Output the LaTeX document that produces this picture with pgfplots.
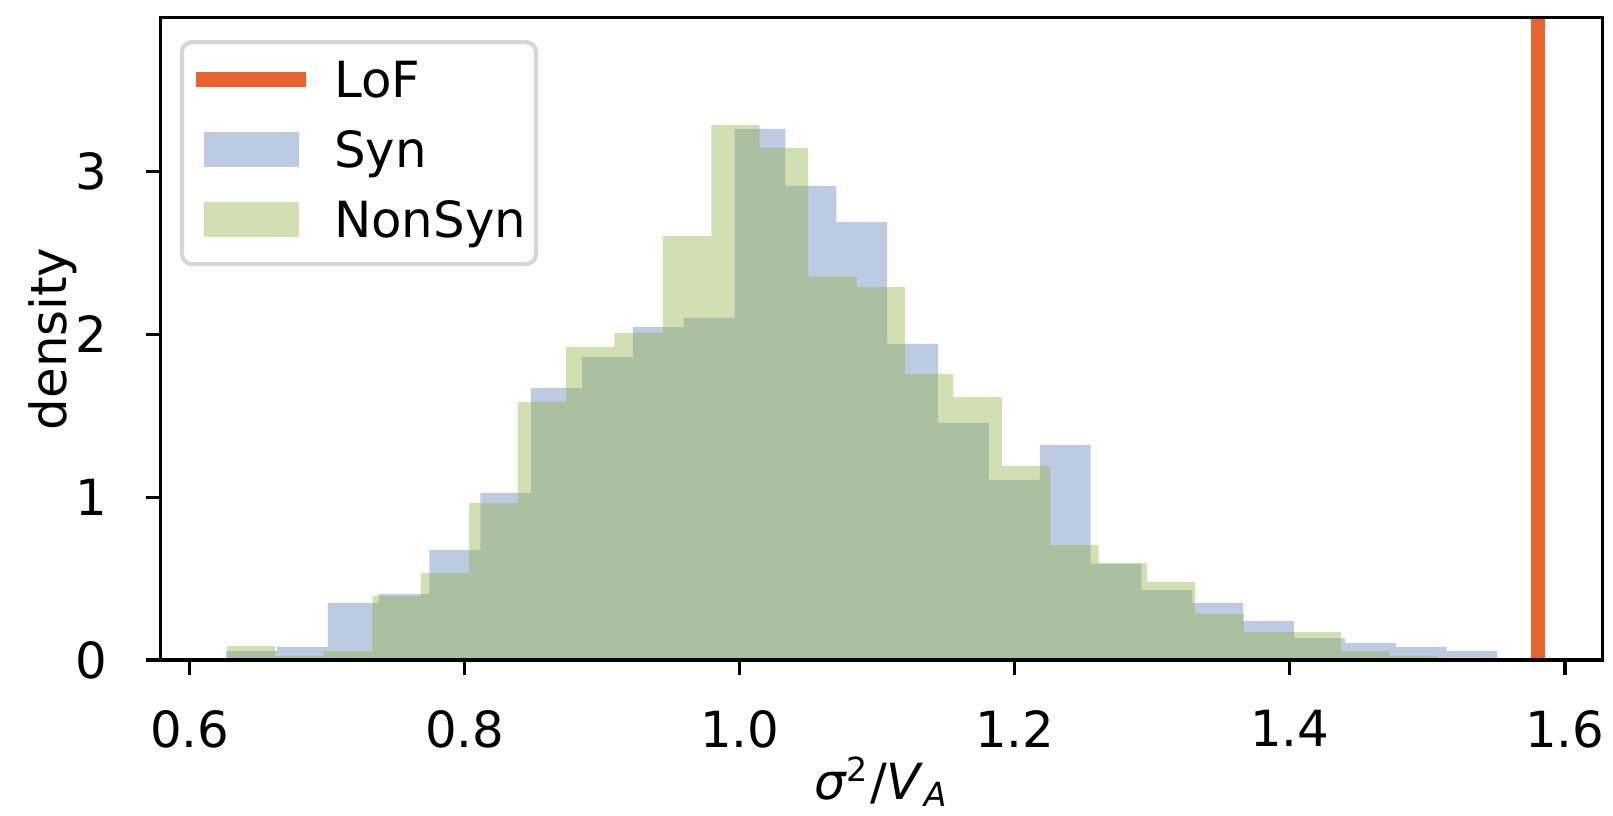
\documentclass[border=0pt]{standalone}
\usepackage{fontspec}
\setmainfont{DejaVu Sans}
\usepackage{pgfplots}
\usepackage{pgfplotstable}
\pgfplotsset{compat=1.18}
\definecolor{lofc}{RGB}{233,99,48}
\definecolor{synbase}{RGB}{88,125,180}
\definecolor{nonbase}{RGB}{143,175,63}
\definecolor{leggray}{RGB}{214,214,214}

\pgfplotstableread{
x y
0.6264 0.055
0.6634 0.080
0.7004 0.350
0.7373 0.405
0.7743 0.676
0.8113 1.026
0.8483 1.671
0.8853 1.861
0.9223 2.045
0.9593 2.101
0.9962 3.262
1.0332 2.912
1.0702 2.690
1.1072 1.941
1.1442 1.456
1.1812 1.106
1.2182 1.321
1.2551 0.590
1.2921 0.430
1.3291 0.350
1.3661 0.240
1.4031 0.135
1.4401 0.104
1.4771 0.080
1.5140 0.055
1.5510 0.055
}\syntable

\pgfplotstableread{
x y
0.6271 0.086
0.6623 0.025
0.6975 0.055
0.7328 0.393
0.7680 0.534
0.8032 0.964
0.8384 1.585
0.8736 1.923
0.9088 2.009
0.9440 2.604
0.9793 3.286
1.0145 3.145
1.0497 2.353
1.0849 2.291
1.1201 1.757
1.1553 1.615
1.1906 1.192
1.2258 0.706
1.2610 0.596
1.2962 0.479
1.3314 0.283
1.3666 0.172
1.4018 0.172
1.4371 0.055
1.4723 0.025
1.5075 0.025
}\nonsyntable

\begin{document}
\begin{tikzpicture}
\begin{axis}[
  at={(0,0)}, anchor=south west,
  scale only axis, width=346.08bp, height=154.15bp,
  xmin=0.5786, xmax=1.6273, ymin=0, ymax=3.945,
  axis on top,
  axis line style={line width=0.8bp, black},
  every tick/.style={line width=0.8bp, black},
  tick align=outside, major tick length=3.5bp,
  tick pos=left,
  xtick={0.6,0.8,1.0,1.2,1.4,1.6},
  ytick={0,1,2,3},
  /pgf/number format/assume math mode=true,
  xticklabel style={/pgf/number format/fixed, /pgf/number format/fixed zerofill, /pgf/number format/precision=1},
  tick label style={font=\fontsize{12}{14.4}\selectfont, inner sep=0pt},
  xticklabel style={anchor=north, yshift=-8.4bp},
  yticklabel style={anchor=east, xshift=-8.95bp},
  xlabel={\textit{σ}\textsuperscript{2}/\textit{V}\textsubscript{\textit{A}}},
  ylabel={density},
  label style={font=\fontsize{12}{14.4}\selectfont},
  xlabel style={at={(axis description cs:0.5,-0.2167)}, anchor=base},
  ylabel style={at={(axis description cs:-0.06533,0.5)}, anchor=base},
  legend cell align=left,
  legend style={at={(axis description cs:0.01503,0.9620)}, anchor=north west,
    outer sep=0pt, draw=leggray, line width=1bp, rounded corners=2.4bp,
    fill=white, inner xsep=1.73bp, inner ysep=4.6bp, row sep=8.05bp,
    font=\fontsize{12}{14.4}\selectfont,
    nodes={inner sep=0pt, text height=8.75bp, text depth=0pt, text width=46.7bp},
    /tikz/every odd column/.append style={column sep=5.17bp}},
]
\addplot[lofc, line width=3.43bp,
  legend image code/.code={\path[draw=none, fill=none, sharp corners] (0bp,-4.2bp) rectangle (26.2bp,4.2bp);
    \draw[draw=lofc, fill=none, sharp corners, line width=3.43bp] (0bp,0bp) -- (26.2bp,0bp);}]
  coordinates {(1.5806,0) (1.5806,3.945)};
\addlegendentry{LoF}
\addplot[ybar interval, fill=synbase, fill opacity=0.4, draw=none,
  legend image code/.code={\path[draw=none, fill=none, sharp corners] (0bp,-4.2bp) rectangle (26.2bp,4.2bp);
    \path[draw=none, fill=synbase, fill opacity=0.4, sharp corners] (1.85bp,-4.2bp) rectangle (24.65bp,4.2bp);}]
  table[x=x, y=y] {\syntable};
\addlegendentry{Syn}
\addplot[ybar interval, fill=nonbase, fill opacity=0.4, draw=none,
  legend image code/.code={\path[draw=none, fill=none, sharp corners] (0bp,-6.1bp) rectangle (26.2bp,4.2bp);
    \path[draw=none, fill=nonbase, fill opacity=0.4, sharp corners] (1.85bp,-4.2bp) rectangle (24.65bp,4.2bp);}]
  table[x=x, y=y] {\nonsyntable};
\addlegendentry{NonSyn}
\end{axis}
\pgfresetboundingbox
\path[use as bounding box] (-38.47bp,-37.2bp) rectangle (348.63bp,158.4bp);
\end{tikzpicture}
\end{document}
